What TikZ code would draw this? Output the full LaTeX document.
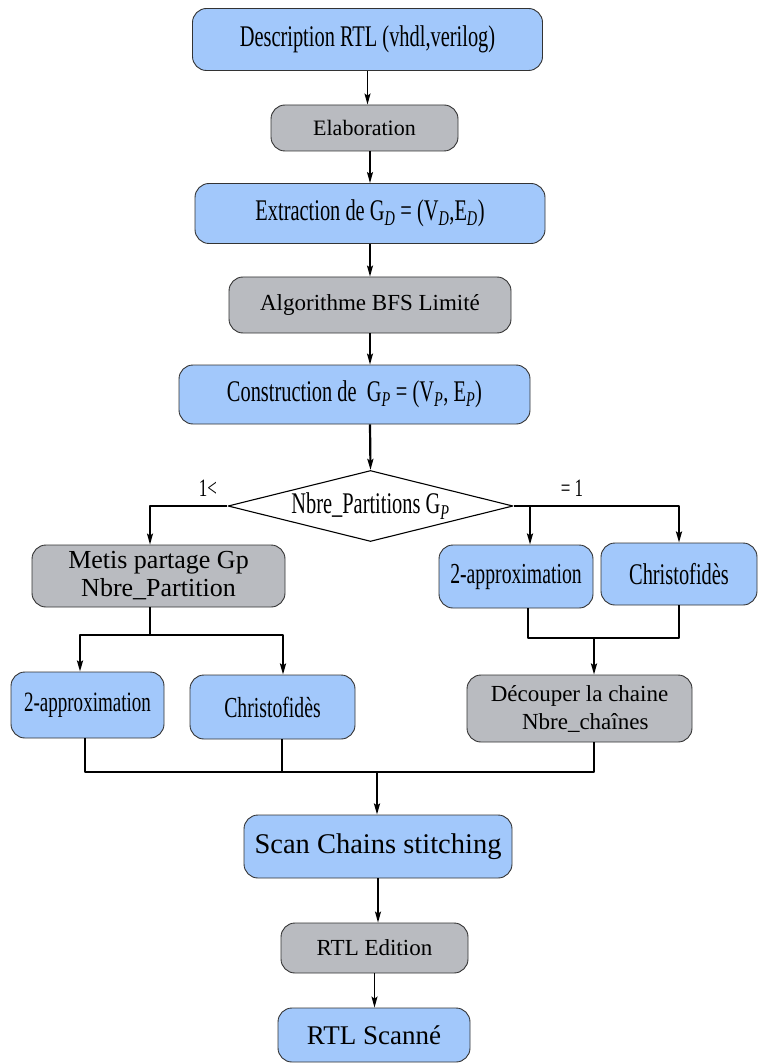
\documentclass[tikz,border=0pt]{standalone}
\usepackage{fontspec}
\setmainfont{Liberation Serif}
\newfontfamily\condfont[FakeStretch=0.68]{Liberation Serif}
\usetikzlibrary{shapes.geometric,arrows.meta}
\definecolor{boxblue}{RGB}{162,200,251}
\definecolor{boxgray}{RGB}{185,187,192}
\begin{document}
\begin{tikzpicture}[
		x=1pt,y=-1pt,
		>={Stealth[length=11pt,width=6pt,inset=2pt]},
		line width=1.3pt,
		line join=round,
		heavy/.style={line width=2.2pt},
		bluebox/.style={draw=black!80,line width=0.9pt,fill=boxblue,rounded corners=14pt,align=center,inner sep=0pt},
		graybox/.style={draw=black!80,line width=0.9pt,fill=boxgray,rounded corners=14pt,align=center,inner sep=0pt},
		cond/.style={font=\condfont\fontsize{#1}{30}\selectfont},
		cond/.default=30,
		plain/.style={font=\fontsize{#1}{28}\selectfont},
		plain/.default=23
		]
		\useasboundingbox (0,0) rectangle (757,1064);
		% main column
		\node[bluebox,cond,minimum width=350pt,minimum height=62pt] (desc) at (367.5,39.5) {Description RTL (vhdl,verilog)};
		\node[graybox,plain=22,minimum width=187pt,minimum height=46pt] (elab) at (364.5,128) {Elaboration};
		\node[bluebox,cond,minimum width=350pt,minimum height=60pt] (extr) at (370,213.5) {Extraction de G\textsubscript{\itshape D} = (V\textsubscript{\itshape D},E\textsubscript{\itshape D})};
		\node[graybox,plain,minimum width=282pt,minimum height=56pt] (bfs) at (370,305) {Algorithme BFS Limité};
		\node[bluebox,cond,minimum width=351pt,minimum height=59pt] (constr) at (354.5,394.5) {Construction de \ G\textsubscript{\itshape P} = (V\textsubscript{\itshape P}, E\textsubscript{\itshape P})};
		\node[draw=black,line width=1.1pt,fill=white,shape=diamond,aspect=4,inner sep=0pt,cond,minimum width=285pt,minimum height=71pt] (dia) at (370.5,506) {Nbre\_Partitions G\textsubscript{\itshape P}};
		\node[cond=25] (lblL) at (208,488) {1<};
		\node[cond=25] (lblR) at (572,488) {= 1};
		% branches
		\node[graybox,plain=26,minimum width=253pt,minimum height=62pt] (metis) at (158.5,576) {Metis partage Gp\\Nbre\_Partition};
		\node[bluebox,cond=29,minimum width=154pt,minimum height=63pt] (appR) at (516,576.5) {2-approximation};
		\node[bluebox,cond,minimum width=156pt,minimum height=62pt] (chrR) at (679,574) {Christofidès};
		\node[bluebox,cond=28,minimum width=153pt,minimum height=66pt] (appL) at (87.5,705) {2-approximation};
		\node[bluebox,cond=29,minimum width=165pt,minimum height=64pt] (chrL) at (272.5,707) {Christofidès};
		\node[graybox,plain,minimum width=225pt,minimum height=67pt] (dec) at (579.5,708.5) {Découper la chaine\\\ \ Nbre\_chaînes};
		% bottom
		\node[bluebox,plain=28.5,minimum width=268pt,minimum height=63pt] (scan) at (378,846.5) {Scan Chains stitching};
		\node[graybox,plain,minimum width=187pt,minimum height=50pt] (edit) at (374.5,948) {RTL Edition};
		\node[bluebox,plain=27,minimum width=192pt,minimum height=54pt] (scanne) at (374,1035) {RTL Scanné};
		\coordinate (splitL) at (150,635);
		\coordinate (joinR) at (594,638);
		\coordinate (joinB) at (377,772);
		% arrows
		\draw[->] (desc.south) -- (desc.south |- elab.north);
		\draw[->] (extr.north |- elab.south) -- (extr.north);
		\draw[->] (extr.south) -- (bfs.north);
		\draw[->] (bfs.south) -- (bfs.south |- constr.north);
		\draw[->,heavy] (bfs.south |- constr.south) -- (dia.north);
		\draw[->] (dia.west) -| ([xshift=-8.5pt]metis.north);
		\draw[->,heavy] (dia.east) -| ([xshift=14pt]appR.north);
		\draw[->,heavy] (dia.east) -| (chrR.north);
		\draw ([xshift=-8.5pt]metis.south) -- (splitL);
		\draw[->,heavy] (splitL) -| ([xshift=-7.5pt]appL.north);
		\draw[->,heavy] (splitL) -| ([xshift=10.5pt]chrL.north);
		\draw[heavy] ([xshift=12pt]appR.south) |- (joinR) -| (chrR.south);
		\draw[->,heavy] (joinR) -- (joinR |- dec.north);
		\draw ([xshift=-2.5pt]appL.south) |- (joinB);
		\draw ([xshift=9.5pt]chrL.south) -- ([xshift=9.5pt]chrL.south |- joinB);
		\draw ([xshift=14.5pt]dec.south) |- (joinB);
		\draw[->,heavy] (joinB) -- (joinB |- scan.north);
		\draw[->] (scan.south) -- (scan.south |- edit.north);
		\draw[->] (edit.south) -- (edit.south |- scanne.north);
		\end{tikzpicture}
\end{document}
